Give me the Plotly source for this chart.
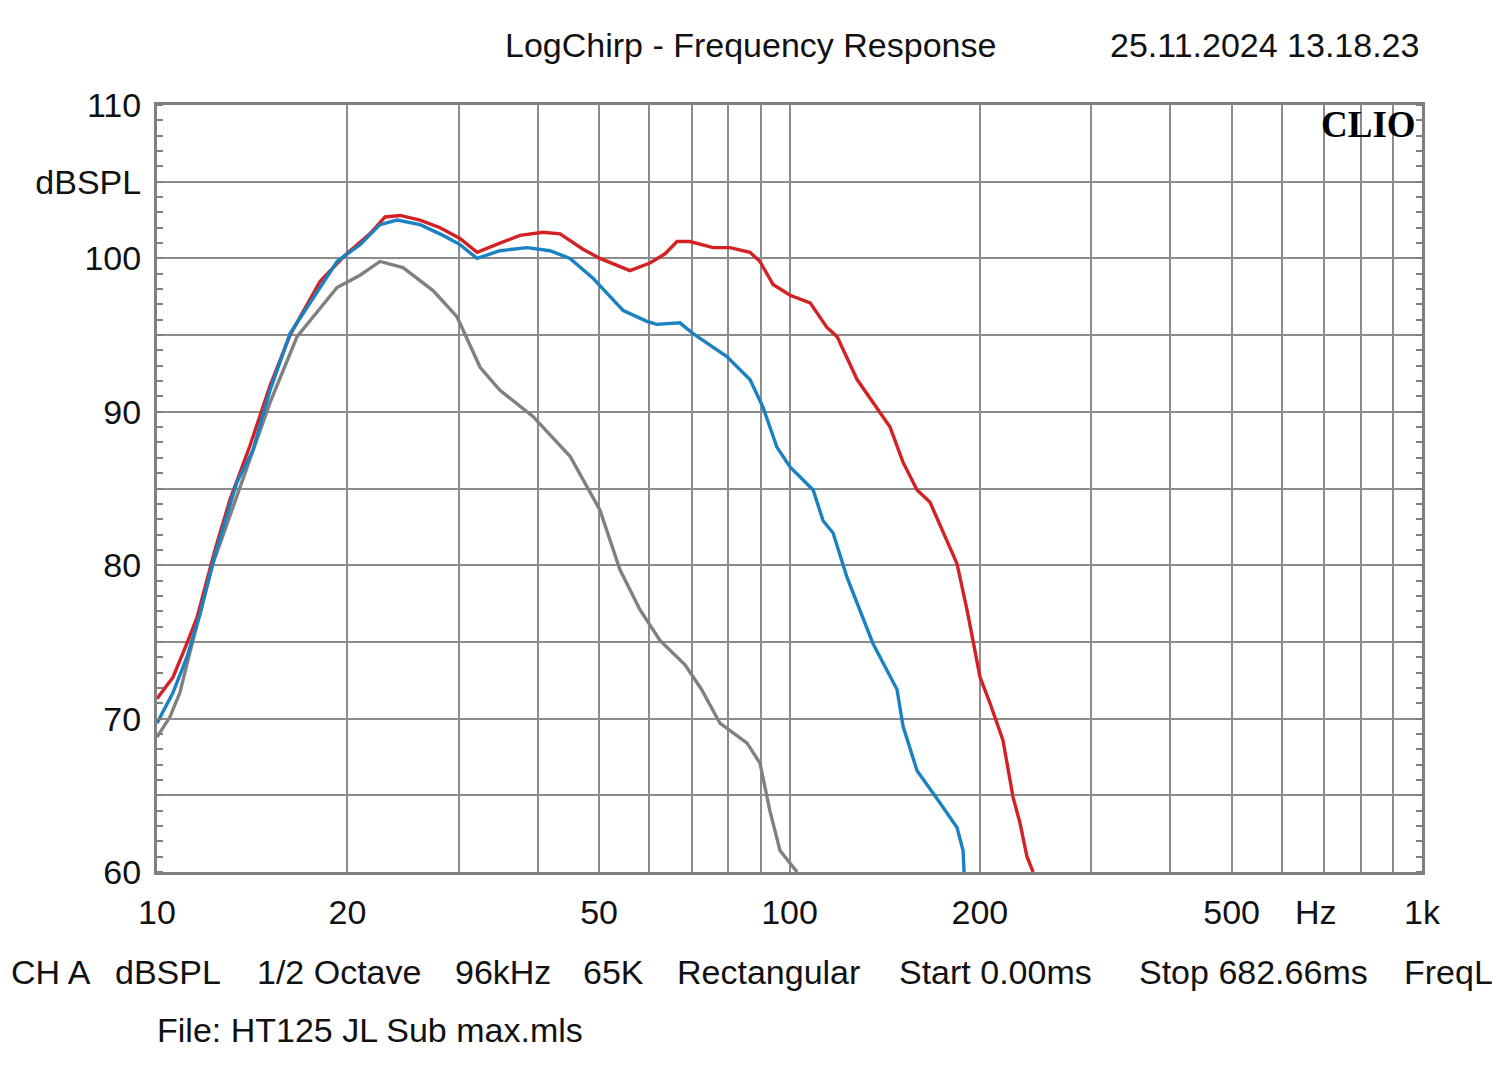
import plotly.graph_objects as go

# Red curve
red_f = [10, 10.6, 11.15, 11.57, 12.35, 13.05, 14.03, 15.09, 16.23, 18.1, 19.83, 21.7, 22.94, 24.22,
         26.05, 28.03, 30.13, 32.06, 34.85, 37.5, 40.76, 43.37, 47.15, 50.15, 55.93, 60.17, 63.57,
         66.4, 69.6, 75.7, 80.5, 86.6, 89.8, 94.2, 100.2, 107.8, 114.6, 118.9, 127.9, 135.5, 144.2,
         151.2, 159.1, 166.8, 179.4, 184.0, 190.8, 200.1, 207.5, 217.5, 225.6, 231.4, 237.4, 242.7]
red_db = [71.3, 72.7, 74.9, 76.6, 81.0, 84.3, 87.8, 91.7, 95.0, 98.5, 100.2, 101.6, 102.7, 102.8,
          102.5, 102.0, 101.3, 100.4, 101.0, 101.5, 101.7, 101.6, 100.6, 100.0, 99.2, 99.7, 100.3,
          101.1, 101.1, 100.7, 100.7, 100.4, 99.8, 98.3, 97.6, 97.1, 95.5, 94.9, 92.1, 90.6, 89.0,
          86.7, 84.9, 84.1, 81.2, 80.1, 77.1, 72.7, 71.0, 68.6, 64.9, 63.2, 61.0, 60.0]

# Blue curve
blue_f = [10, 10.6, 11.15, 11.69, 12.35, 13.38, 14.18, 15.09, 16.23, 19.26, 20.94, 22.52, 23.96,
          26.05, 28.33, 30.13, 32.06, 34.85, 38.46, 41.8, 44.98, 48.9, 54.6, 59.5, 61.7, 67.1, 70.4,
          79.6, 86.6, 90.8, 95.5, 100.2, 109.0, 113.0, 117.2, 123.3, 135.5, 147.9, 151.2, 159.1,
          173.0, 184.0, 188.1, 188.8]
blue_db = [69.7, 71.7, 74.0, 76.8, 80.7, 85.4, 87.5, 91.4, 95.1, 99.8, 100.9, 102.2, 102.5,
           102.2, 101.5, 100.9, 100.0, 100.5, 100.7, 100.5, 100.0, 98.7, 96.6, 95.9, 95.7, 95.8, 95.1,
           93.6, 92.1, 90.3, 87.7, 86.4, 84.9, 82.9, 82.1, 79.2, 74.9, 71.9, 69.5, 66.6,
           64.5, 62.9, 61.4, 60.0]

# Gray curve
gray_f = [10, 10.48, 10.87, 11.27, 12.26, 13.53, 15.09, 16.65, 19.26, 20.94, 22.52, 24.49, 27.32,
          29.8, 32.42, 34.85, 39.3, 44.98, 47.85, 50.15, 53.95, 58.02, 62.41, 68.36, 72.6, 77.63,
          85.7, 89.8, 93.1, 96.6, 102.8]
gray_db = [68.8, 70.1, 71.7, 74.3, 80.1, 85.1, 90.6, 94.9, 98.1, 98.9, 99.8, 99.4, 97.9,
           96.2, 92.9, 91.4, 89.7, 87.1, 85.1, 83.6, 79.7, 77.1, 75.1, 73.5, 71.9, 69.7,
           68.4, 67.1, 64.0, 61.4, 60.0]

x_grid = [10, 20, 30, 40, 50, 60, 70, 80, 90, 100, 200, 300, 400, 500, 600, 700, 800, 900, 1000]
x_labels = ["10", "20", "", "", "50", "", "", "", "", "100", "200", "", "", "500", "", "", "", "", "1k"]
y_grid = [60, 65, 70, 75, 80, 85, 90, 95, 100, 105, 110]
y_labels = ["60", "", "70", "", "80", "", "90", "", "100", "dBSPL", "110"]

footer_items = ["CH A", "dBSPL", "1/2 Octave", "96kHz", "65K", "Rectangular",
                "Start 0.00ms", "Stop 682.66ms", "FreqL"]
footer_x = [9, 113, 255, 453, 581, 675, 897, 1137, 1402]

FONT = "Liberation Sans, Arial, sans-serif"
FS = 34
GRID = "#8c8c8c"
OFF = 8  # page body margin

fig = go.Figure()
fig.add_trace(go.Scatter(x=gray_f, y=gray_db, mode="lines", line=dict(color="#808080", width=3.4)))
fig.add_trace(go.Scatter(x=red_f, y=red_db, mode="lines", line=dict(color="#d42224", width=3.4)))
fig.add_trace(go.Scatter(x=blue_f, y=blue_db, mode="lines", line=dict(color="#1b82c2", width=3.4)))

W, H = 1500, 1074
L, T = 157 - OFF, 105 - OFF
Rr, Bb = 1422 - OFF, 872 - OFF
R, B = W - Rr, H - Bb
pw, ph = Rr - L, Bb - T


def px(xp):
    return (xp - OFF - L) / pw


def py(yp):
    return 1 - (yp - OFF - T) / ph


ann = []
ann.append(dict(text="LogChirp - Frequency Response", x=px(750), y=py(45), xanchor="center", yanchor="middle"))
ann.append(dict(text="25.11.2024 13.18.23", x=px(1421), y=py(45), xanchor="right", yanchor="middle"))
ann.append(dict(text="Hz", x=px(1316), y=py(912), xanchor="center", yanchor="middle"))
for t, xp in zip(footer_items, footer_x):
    ann.append(dict(text=t, x=px(xp), y=py(972), xanchor="left", yanchor="middle"))
ann.append(dict(text="File: HT125 JL Sub max.mls", x=px(155), y=py(1030), xanchor="left", yanchor="middle"))
for a in ann:
    a.update(xref="paper", yref="paper", showarrow=False, font=dict(family=FONT, size=FS, color="#111"))
ann.append(dict(text="<b>CLIO</b>", x=px(1418), y=py(124), xref="paper", yref="paper", xanchor="right",
                yanchor="middle", showarrow=False,
                font=dict(family="Liberation Serif, DejaVu Serif, serif", size=37, color="#000")))

fig.update_layout(
    width=W, height=H,
    margin=dict(l=L, r=R, t=T, b=B, autoexpand=False),
    paper_bgcolor="white", plot_bgcolor="white",
    showlegend=False,
    annotations=ann,
    xaxis=dict(type="log", range=[1, 3], tickvals=x_grid, ticktext=x_labels,
               showgrid=True, gridcolor=GRID, gridwidth=2,
               showline=True, linecolor="#808080", linewidth=3, mirror=True,
               ticks="", ticklabelstandoff=8,
               tickfont=dict(family=FONT, size=FS, color="#111"), zeroline=False),
    yaxis=dict(range=[60, 110], tickvals=y_grid, ticktext=y_labels,
               showgrid=True, gridcolor=GRID, gridwidth=2,
               showline=True, linecolor="#808080", linewidth=3, mirror="ticks",
               ticks="", ticklabelstandoff=6,
               minor=dict(dtick=1, ticks="inside", ticklen=6, tickcolor="#808080", tickwidth=2, showgrid=False),
               tickfont=dict(family=FONT, size=FS, color="#111"), zeroline=False),
)

fig.write_html("out.html")
